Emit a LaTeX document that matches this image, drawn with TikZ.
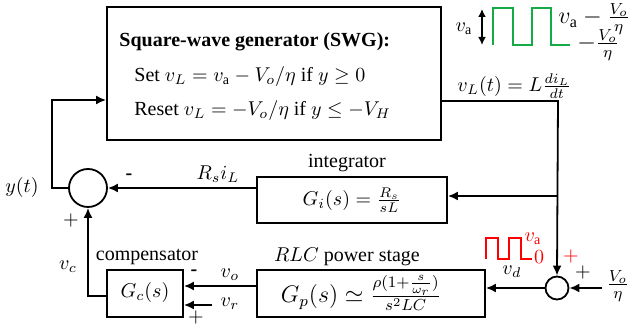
\documentclass[tikz,border=0pt]{standalone}
\usepackage{fontspec}
\setmainfont{Liberation Serif}
\usetikzlibrary{arrows.meta,fit}
\definecolor{wavegreen}{RGB}{20,170,70}
\begin{document}
\begin{tikzpicture}[x=0.5pt,y=-0.5pt,
  every node/.style={font=\fontsize{10}{12}\selectfont},
  wire/.style={line width=0.9pt},
  arr/.style={wire,-{Latex[length=5pt,width=4.5pt]}},
  blk/.style={draw,line width=0.9pt,inner sep=0pt},
  sum/.style={draw,circle,line width=0.9pt,inner sep=0pt},
  lbl/.style={inner sep=1pt},
  biglbl/.style={inner sep=1pt,font=\fontsize{12}{14}\selectfont}]
\useasboundingbox (0,0) rectangle (628,325);
% blocks
\node[blk,fit={(107,7) (441,140)}] (swg) {};
\node[blk,fit={(257,177) (447,223)}] (int) {};
\node[blk,fit={(257,270) (485,317)}] (gp) {};
\node[blk,fit={(107,270) (183,317)}] (gc) {};
\node[sum,minimum size=19pt] (s1) at (88,188) {};
\node[sum,minimum size=11.5pt] (s2) at (557,288) {};
% block texts
\node[lbl,anchor=west] (t1) at (117,42) {\textbf{Square-wave generator (SWG):}};
\node[lbl,anchor=west] (t2) at (132,77) {Set $v_L = v_{\mathrm{a}} - V_o/\eta$ if $y \geq 0$};
\node[lbl,anchor=west] (t3) at (132,111) {Reset $v_L = -V_o/\eta$ if $y \leq -V_H$};
\node[lbl] (ti) at (352,200) {$G_i(s) = \frac{R_s}{sL}$};
\node[lbl,font=\fontsize{11.5}{13}\selectfont] (tp) at (361,293) {$G_p(s) \simeq \frac{\rho(1+\frac{s}{\omega_r})}{s^2LC}$};
\node[lbl] (tc) at (145,293) {$G_c(s)$};
\node[lbl] (li) at (347,163) {integrator};
\node[lbl] (lp) at (347,257) {$RLC$ power stage};
\node[lbl] (lc) at (147,257) {compensator};
% coordinates
\coordinate (c1) at (52,100);
\coordinate (c2) at (558,101);
\coordinate (br) at (558,196);
\coordinate (vin) at (602,288);
\coordinate (vr) at (212,305);
\coordinate (vo) at (257,286);
\coordinate (gco) at (107,296);
% connectors
\draw[arr] (s1.west) -| (c1) -- (swg.west |- c1);
\draw[arr] (swg.east |- c2) -- (c2) -- (s2.north);
\draw[arr] (br) -- (int.east |- br);
\draw[arr] (int.west |- s1) -- (s1.east);
\draw[arr] (vin) -- (s2.east);
\draw[arr] (s2.west) -- (gp.east |- s2);
\draw[arr] (vo) -- (gc.east |- vo);
\draw[arr] (vr) -- (gc.east |- vr);
\draw[arr] (gco) -| (s1.south);
% signal labels
\node[lbl] (ly) at (22,188) {$y(t)$};
\node[lbl] (m1) at (129,177) {\textbf{-}};
\node[lbl] (lr) at (218,174) {$R_s i_L$};
\node[lbl] (p1) at (71,221) {$+$};
\node[lbl] (lvc) at (68,267) {$v_c$};
\node[lbl] (m2) at (194,273) {\textbf{-}};
\node[lbl] (lvo) at (230,275) {$v_o$};
\node[lbl] (lvr) at (230,304) {$v_r$};
\node[lbl] (p2) at (196,318) {$+$};
\node[lbl] (lvd) at (512,272) {$v_d$};
\node[lbl] (p3) at (583,273) {$+$};
\node[biglbl,anchor=west] (lvoe) at (604,286) {$\frac{V_o}{\eta}$};
\node[lbl,anchor=west] (lvl) at (455,86) {$v_L(t) = L\frac{di_L}{dt}$};
% green waveform
\draw[wavegreen,line width=1.1pt] (493,45) -- (493,8) -- (513,8) -- (513,45) -- (532,45) -- (532,8) -- (551,8) -- (551,45) -- (570,45);
\draw[line width=0.9pt,{Latex[length=4pt,width=4pt]}-{Latex[length=4pt,width=4pt]}] (482,9) -- (482,45);
\node[lbl] (lva) at (464,29) {$v_{\mathrm{a}}$};
\node[biglbl,anchor=west] (lhi) at (556,19) {$v_{\mathrm{a}} - \frac{V_o}{\eta}$};
\node[biglbl,anchor=west] (llo) at (575,45) {$-\frac{V_o}{\eta}$};
% red waveform
\draw[red,line width=1.1pt] (486,259) -- (486,238) -- (498,238) -- (498,259) -- (509,259) -- (509,238) -- (521,238) -- (521,259) -- (532,259);
\node[lbl,red] (rva) at (533,239) {$v_{\mathrm{a}}$};
\node[lbl,red] (r0) at (539,257) {$0$};
\node[lbl,red] (rp) at (571,257) {$+$};
\end{tikzpicture}
\end{document}
